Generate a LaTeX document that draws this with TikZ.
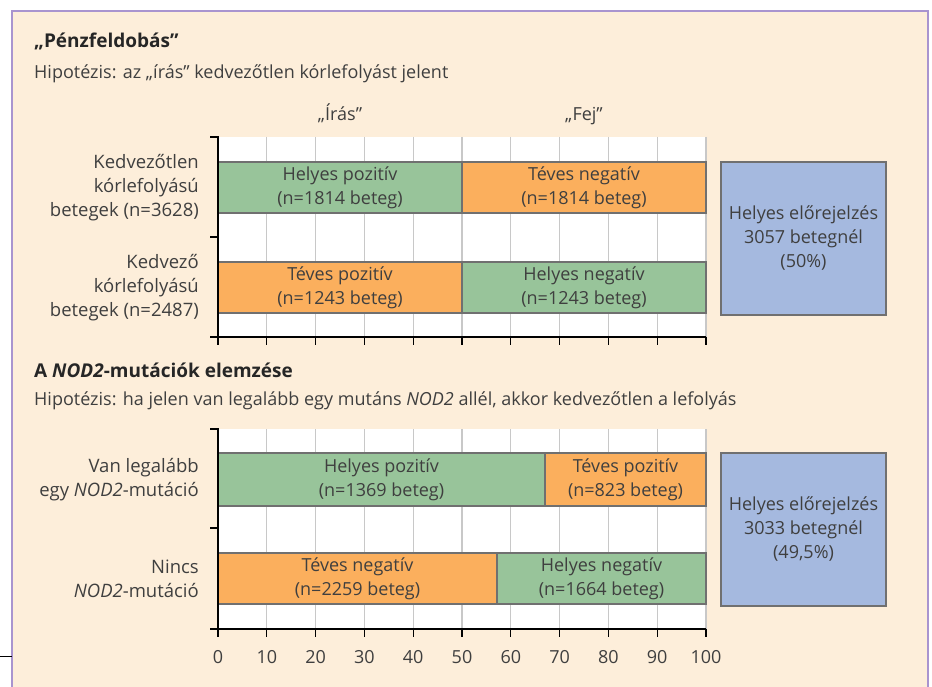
\documentclass[tikz,border=0pt]{standalone}
\usepackage{fontspec}
\setmainfont{Open Sans}
\usepackage{tikz}
\definecolor{framefill}{HTML}{FDEEDA}
\definecolor{framedraw}{HTML}{A994CF}
\definecolor{goodbar}{HTML}{98C49A}
\definecolor{badbar}{HTML}{FBAF5D}
\definecolor{sumbox}{HTML}{A5B9DF}
\definecolor{barline}{HTML}{707070}
\definecolor{gridgray}{HTML}{C8C8C8}
\definecolor{txt}{HTML}{3F3F3F}
\tikzstyle{bar} = [rectangle, draw = barline, line width = 1.3pt, inner sep = 0pt,
  text centered, align = center, text = txt, font = \fontsize{18}{24}\selectfont]
\tikzstyle{good} = [bar, fill = goodbar]
\tikzstyle{bad} = [bar, fill = badbar]
\tikzstyle{summary} = [bar, fill = sumbox, minimum width = 165pt, minimum height =
  153pt]
\tikzstyle{rowname} = [anchor = east, align = right, inner sep = 0pt, text = txt,
  font = \fontsize{18.5}{24}\selectfont]
\tikzstyle{heading} = [anchor = base west, inner sep = 0pt, text = black!85,
  font = \fontsize{19}{22}\selectfont\bfseries]
\tikzstyle{hypo} = [anchor = base west, inner sep = 0pt, text = txt,
  font = \fontsize{18}{22}\selectfont]
\tikzstyle{colname} = [anchor = base, inner sep = 0pt, text = txt,
  font = \fontsize{18}{22}\selectfont]
\tikzstyle{gridline} = [gridgray, line width = 1.2pt]
\tikzstyle{axis} = [black, line width = 1.3pt]

\begin{document}
\begin{tikzpicture}[x = 1pt, y = -1pt]
  \useasboundingbox (0,0) rectangle (932,687);
  \draw [framedraw, fill = framefill, line width = 1.6pt] (12,11) rectangle (928,700);
  \draw [black, line width = 0.8pt] (0,656) -- (12,656);

  % Penzfeldobas
  \node (title-1) [heading] at (34,48) {„Pénzfeldobás”};
  \node (hypo-1) [hypo] at (34,79) {Hipotézis: az „írás” kedvezőtlen kórlefolyást jelent};
  \node (iras) [colname] at (340,121) {„Írás”};
  \node (fej) [colname] at (584,121) {„Fej”};

  \fill [white] (218,137) rectangle (706,337);
  \foreach \p in {1,...,10}
    \draw [gridline] ({218+48.8*\p},137) -- ({218+48.8*\p},337);

  \node (hp-1) [good, minimum width = 244pt, minimum height = 51pt] at (340,187.5)
    {Helyes pozitív\\(n=1814 beteg)};
  \node (tn-1) [bad, minimum width = 244pt, minimum height = 51pt] at (584,187.5)
    {Téves negatív\\(n=1814 beteg)};
  \node (tp-1) [bad, minimum width = 244pt, minimum height = 51pt] at (340,287.5)
    {Téves pozitív\\(n=1243 beteg)};
  \node (hn-1) [good, minimum width = 244pt, minimum height = 51pt] at (584,287.5)
    {Helyes negatív\\(n=1243 beteg)};
  \node (sum-1) [summary] at (803.5,238.5)
    {Helyes előrejelzés\\3057 betegnél\\(50\%)};

  \node (row-1a) [rowname] at (199,187.5) {Kedvezőtlen\\kórlefolyású\\betegek (n=3628)};
  \node (row-1b) [rowname] at (199,287.5) {Kedvező\\kórlefolyású\\betegek (n=2487)};

  \draw [axis] (210,137) -- (218,137) -- (218,337);
  \draw [axis] (210,237) -- (218,237);
  \draw [axis] (210,337) -- (706,337);
  \foreach \p in {0,...,10}
    \draw [axis] ({218+48.8*\p},337) -- ({218+48.8*\p},345);

  % NOD2
  \node (title-2) [heading] at (34,377) {A \textit{NOD2}-mutációk elemzése};
  \node (hypo-2) [hypo] at (34,405) {Hipotézis: ha jelen van legalább egy mutáns
    \textit{NOD2} allél, akkor kedvezőtlen a lefolyás};

  \fill [white] (218,429) rectangle (706,629);
  \foreach \p in {1,...,10}
    \draw [gridline] ({218+48.8*\p},429) -- ({218+48.8*\p},629);

  \node (hp-2) [good, minimum width = 327pt, minimum height = 53pt] at (381.5,479.5)
    {Helyes pozitív\\(n=1369 beteg)};
  \node (tp-2) [bad, minimum width = 161pt, minimum height = 53pt] at (625.5,479.5)
    {Téves pozitív\\(n=823 beteg)};
  \node (tn-2) [bad, minimum width = 279pt, minimum height = 51pt] at (357.5,578.5)
    {Téves negatív\\(n=2259 beteg)};
  \node (hn-2) [good, minimum width = 209pt, minimum height = 51pt] at (601.5,578.5)
    {Helyes negatív\\(n=1664 beteg)};
  \node (sum-2) [summary] at (803.5,529.5)
    {Helyes előrejelzés\\3033 betegnél\\(49,5\%)};

  \node (row-2a) [rowname] at (199,479.5) {Van legalább\\egy \textit{NOD2}-mutáció};
  \node (row-2b) [rowname] at (199,578.5) {Nincs\\\textit{NOD2}-mutáció};

  \draw [axis] (210,429) -- (218,429) -- (218,629);
  \draw [axis] (210,528) -- (218,528);
  \draw [axis] (210,629) -- (706,629);
  \foreach \p in {0,...,10} {
    \draw [axis] ({218+48.8*\p},629) -- ({218+48.8*\p},637);
    \node (tick-\p) [colname] at ({218+48.8*\p},663)
      {\pgfmathparse{int(10*\p)}\pgfmathresult};
  }
\end{tikzpicture}
\end{document}
